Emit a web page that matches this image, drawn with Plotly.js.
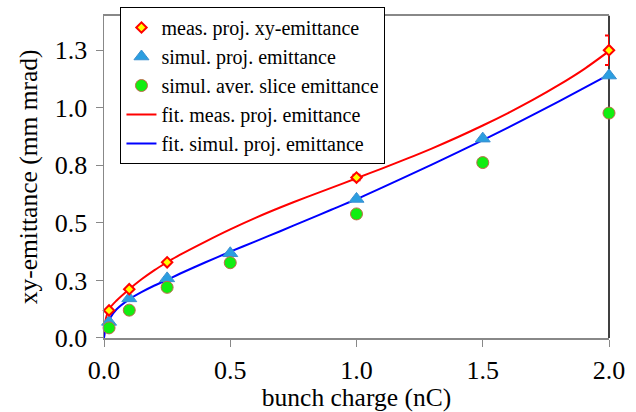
<!DOCTYPE html>
<html>
<head>
<meta charset="utf-8">
<script src="https://cdn.plot.ly/plotly-3.0.1.min.js"></script>
<style>html,body{margin:0;padding:0;background:#fff;}#plot{width:636px;height:412px;}</style>
</head>
<body>
<div id="plot"></div>
<script>
// measured projected xy-emittance
var measCharge = [0.02, 0.1, 0.25, 1.0, 2.0];
var measEmit   = [0.12, 0.212, 0.329, 0.697, 1.25];
var measErr    = [0.004, 0.004, 0.004, 0.012, 0.064];

// simulated projected emittance
var simProjCharge = [0.02, 0.1, 0.25, 0.5, 1.0, 1.5, 2.0];
var simProjEmit   = [0.07, 0.172, 0.259, 0.368, 0.604, 0.866, 1.14];

// simulated average slice emittance
var simSliceCharge = [0.02, 0.1, 0.25, 0.5, 1.0, 1.5, 2.0];
var simSliceEmit   = [0.044, 0.121, 0.22, 0.327, 0.539, 0.762, 0.977];

var fitMeasCharge = [0.0, 0.005, 0.02, 0.05, 0.1, 0.15, 0.2, 0.25, 0.3, 0.4, 0.5, 0.6, 0.7, 0.8, 0.9, 1.0, 1.1, 1.2, 1.3, 1.4, 1.5, 1.6, 1.7, 1.8, 1.9, 2.0];
var fitMeasEmit   = [0.0, 0.07, 0.125, 0.163, 0.212, 0.256, 0.295, 0.329, 0.361, 0.418, 0.472, 0.522, 0.568, 0.611, 0.652, 0.694, 0.736, 0.779, 0.824, 0.872, 0.923, 0.977, 1.035, 1.098, 1.167, 1.246];

// fit of simulated projected emittance
var fitSimCharge = [0.0, 0.005, 0.025, 0.05, 0.1, 0.15, 0.2, 0.25, 0.3, 0.4, 0.5, 0.6, 0.7, 0.8, 0.9, 1.0, 1.2, 1.4, 1.6, 1.8, 2.0];
var fitSimEmit   = [0.0, 0.035, 0.088, 0.125, 0.168, 0.2, 0.228, 0.253, 0.279, 0.328, 0.375, 0.42, 0.465, 0.511, 0.557, 0.603, 0.703, 0.806, 0.914, 1.027, 1.144];

var xTickVals = [0, 0.5, 1.0, 1.5, 2.0];
var xTickText = ["0.0", "0.5", "1.0", "1.5", "2.0"];
var yTickVals = [0, 0.25, 0.5, 0.75, 1.0, 1.25];
var yTickText = ["0.0", "0.3", "0.5", "0.8", "1.0", "1.3"];

var serif = "Liberation Serif, Times New Roman, serif";

var traces = [
  {x: fitMeasCharge, y: fitMeasEmit, mode: "lines", name: "fit. meas. proj. emittance",
   line: {color: "#ff0000", width: 2, shape: "spline", smoothing: 0.8}, legendrank: 4, cliponaxis: false},
  {x: fitSimCharge, y: fitSimEmit, mode: "lines", name: "fit. simul. proj. emittance",
   line: {color: "#0000ff", width: 2, shape: "spline", smoothing: 0.8}, legendrank: 5, cliponaxis: false},
  {x: simProjCharge, y: simProjEmit, mode: "markers", name: "simul. proj. emittance",
   marker: {symbol: "triangle-up", size: 13, color: "#2b9ee0", line: {color: "#3a8fd0", width: 1}},
   legendrank: 2, cliponaxis: false},
  {x: simSliceCharge, y: simSliceEmit, mode: "markers", name: "simul. aver. slice emittance",
   marker: {symbol: "circle", size: 12, color: "#11ee11", line: {color: "#c06a4a", width: 1}},
   legendrank: 3, cliponaxis: false},
  {x: measCharge, y: measEmit, mode: "markers", name: "meas. proj. xy-emittance",
   marker: {symbol: "diamond", size: 8, color: "#ffff00", line: {color: "#ff0000", width: 2}},
   error_y: {type: "data", array: measErr, visible: true, color: "#ff0000", thickness: 2, width: 4},
   legendrank: 1, cliponaxis: false}
];

var layout = {
  width: 636, height: 412,
  margin: {l: 103.5, r: 26.7, t: 7, b: 74.3},
  paper_bgcolor: "#ffffff", plot_bgcolor: "#ffffff",
  font: {family: serif, color: "#000000", size: 25},
  showlegend: true,
  legend: {x: 0.0326, y: 1, xanchor: "left", yanchor: "top",
           bgcolor: "#ffffff", bordercolor: "#000000", borderwidth: 1,
           font: {family: serif, size: 20, color: "#000000"}, tracegroupgap: 0},
  xaxis: {range: [0, 2.0], tickvals: xTickVals, ticktext: xTickText,
          showgrid: false, zeroline: false, showline: true, linecolor: "#888888", linewidth: 1.5,
          mirror: true, ticks: "outside", ticklen: 7, tickcolor: "#888888", tickwidth: 1,
          tickfont: {family: serif, size: 26}, ticklabelstandoff: 1,
          title: {text: "bunch charge (nC)", font: {family: serif, size: 25.5}, standoff: 4}},
  yaxis: {range: [0, 1.4], domain: [0, 0.9737], tickvals: yTickVals, ticktext: yTickText,
          showgrid: false, zeroline: false, showline: true, linecolor: "#888888", linewidth: 1.5,
          ticks: "outside", ticklen: 7, tickcolor: "#888888", tickwidth: 1,
          tickfont: {family: serif, size: 26}, ticklabelstandoff: 3,
          title: {text: "xy-emittance (mm mrad)", font: {family: serif, size: 25.5}, standoff: 10}},
  shapes: [
    {type: "line", xref: "paper", yref: "y domain", x0: 1, x1: 1, y0: 0, y1: 1,
     line: {color: "#000000", width: 1.5}, layer: "below"}
  ]
};

Plotly.newPlot("plot", traces, layout, {staticPlot: true, displayModeBar: false});
</script>
</body>
</html>
